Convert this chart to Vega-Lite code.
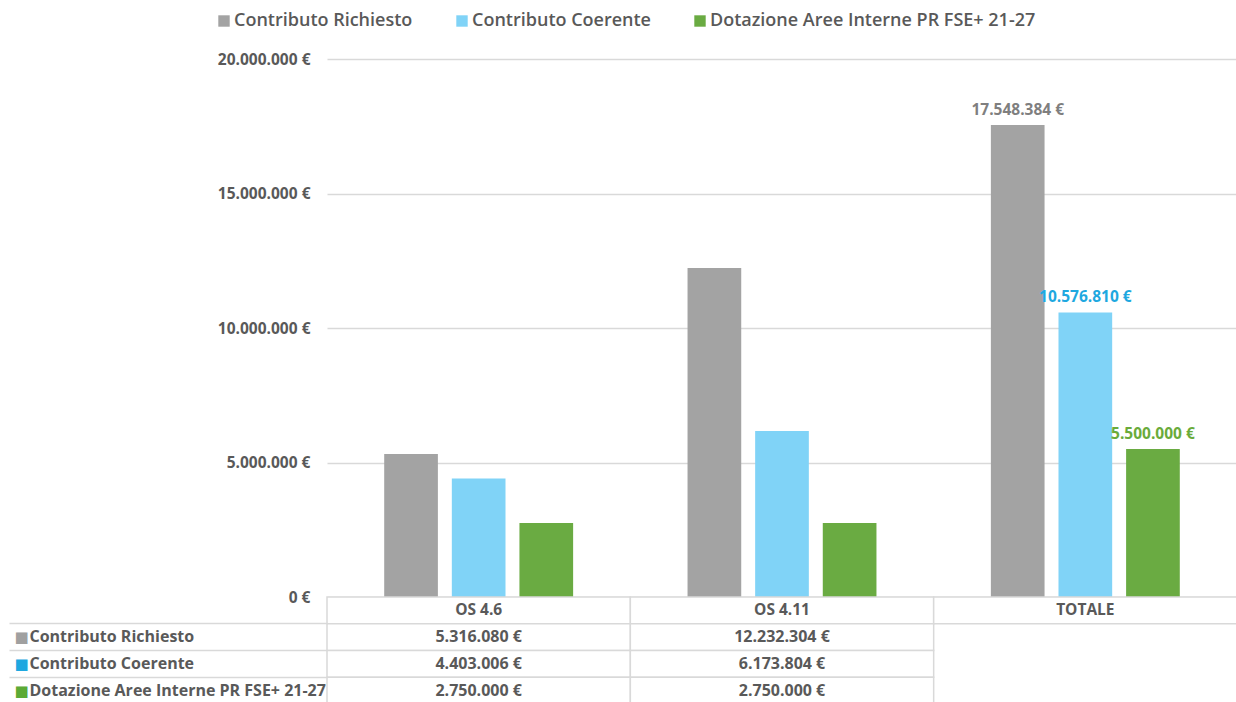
{
  "$schema": "https://vega.github.io/schema/vega-lite/v6.json",
  "padding": {"left": 8, "top": 12, "right": 0, "bottom": 0},
  "background": "white",
  "bounds": "flush",
  "spacing": 0,
  "datasets": {
    "valori": [
      {"cat": "OS 4.6", "serie": "Contributo Richiesto", "valore": 5316080},
      {"cat": "OS 4.6", "serie": "Contributo Coerente", "valore": 4403006},
      {"cat": "OS 4.6", "serie": "Dotazione Aree Interne PR FSE+ 21-27", "valore": 2750000},
      {"cat": "OS 4.11", "serie": "Contributo Richiesto", "valore": 12232304},
      {"cat": "OS 4.11", "serie": "Contributo Coerente", "valore": 6173804},
      {"cat": "OS 4.11", "serie": "Dotazione Aree Interne PR FSE+ 21-27", "valore": 2750000},
      {"cat": "TOTALE", "serie": "Contributo Richiesto", "valore": 17548384},
      {"cat": "TOTALE", "serie": "Contributo Coerente", "valore": 10576810},
      {"cat": "TOTALE", "serie": "Dotazione Aree Interne PR FSE+ 21-27", "valore": 5500000}
    ],
    "categorie": [
      {"cat": "OS 4.6"},
      {"cat": "OS 4.11"},
      {"cat": "TOTALE"}
    ]
  },
  "vconcat": [
    {
      "width": 910,
      "height": 538,
      "data": {"name": "valori"},
      "encoding": {
        "x": {"field": "cat", "type": "nominal", "sort": ["OS 4.6", "OS 4.11", "TOTALE"], "scale": {"paddingInner": 0, "paddingOuter": 0}, "axis": null},
        "xOffset": {"field": "serie", "type": "nominal", "sort": ["Contributo Richiesto", "Contributo Coerente", "Dotazione Aree Interne PR FSE+ 21-27"], "scale": {"paddingInner": 0.206, "paddingOuter": 0.846}},
        "y": {"field": "valore", "type": "quantitative", "scale": {"domain": [0, 20000000], "nice": false},
          "axis": {"values": [0, 5000000, 10000000, 15000000, 20000000], "format": "$,.0f", "title": null, "domain": false, "ticks": false, "labelPadding": 17, "labelFont": "Open Sans", "labelFontSize": 15.5, "labelFontWeight": "bold", "labelColor": "#595959", "gridColor": "#d9d9d9", "gridWidth": 1.5}}
      },
      "layer": [
        {
          "mark": {"type": "bar"},
          "encoding": {
            "color": {"field": "serie", "type": "nominal",
              "scale": {"domain": ["Contributo Richiesto", "Contributo Coerente", "Dotazione Aree Interne PR FSE+ 21-27"], "range": ["#a3a3a3", "#80d3f7", "#6aab42"]},
              "legend": {"orient": "none", "direction": "horizontal", "legendX": -112, "legendY": -47, "title": null,
                "symbolType": "square", "symbolSize": 130, "symbolStrokeWidth": 0,
                "labelFont": "Open Sans", "labelFontSize": 18, "labelFontWeight": 600, "labelColor": "#595959", "labelOffset": 1, "columnPadding": 40, "labelLimit": 400,
                "encode": {"symbols": {"update": {"fill": {"signal": "datum.value === 'Contributo Richiesto' ? '#a0a0a0' : datum.value === 'Contributo Coerente' ? '#1ea8e0' : '#5caa36'"}}}}}
            }
          }
        },
        {
          "transform": [{"filter": "datum.cat === 'TOTALE'"}],
          "mark": {"type": "text", "baseline": "bottom", "dy": -7, "font": "Open Sans", "fontSize": 15.5, "fontWeight": "bold"},
          "encoding": {
            "text": {"field": "valore", "type": "quantitative", "format": "$,.0f"},
            "fill": {"field": "serie", "type": "nominal", "legend": null,
              "scale": {"domain": ["Contributo Richiesto", "Contributo Coerente", "Dotazione Aree Interne PR FSE+ 21-27"], "range": ["#7f7f7f", "#1ea8e0", "#6aab3a"]}}
          }
        }
      ]
    },
    {
      "width": 910,
      "height": 107,
      "resolve": {"axis": {"y": "independent"}},
      "layer": [
        {
          "data": {"name": "categorie"},
          "mark": {"type": "rect", "fill": "white", "stroke": "#d9d9d9", "strokeWidth": 1.5},
          "encoding": {
            "x": {"field": "cat", "type": "nominal", "sort": ["OS 4.6", "OS 4.11", "TOTALE"], "scale": {"paddingInner": 0, "paddingOuter": 0}, "axis": null},
            "y": {"datum": "intestazione", "type": "nominal", "scale": {"domain": ["intestazione", "Contributo Richiesto", "Contributo Coerente", "Dotazione Aree Interne PR FSE+ 21-27"], "paddingInner": 0, "paddingOuter": 0}, "axis": null}
          }
        },
        {
          "data": {"name": "categorie"},
          "mark": {"type": "text", "font": "Open Sans", "fontSize": 15.5, "fontWeight": "bold", "fill": "#595959"},
          "encoding": {
            "x": {"field": "cat", "type": "nominal", "sort": ["OS 4.6", "OS 4.11", "TOTALE"], "axis": null},
            "y": {"datum": "intestazione", "type": "nominal", "axis": null},
            "text": {"field": "cat"}
          }
        },
        {
          "data": {"name": "valori"},
          "transform": [{"filter": "datum.cat !== 'TOTALE'"}],
          "mark": {"type": "rect", "fill": "white", "stroke": "#d9d9d9", "strokeWidth": 1.5},
          "encoding": {
            "x": {"field": "cat", "type": "nominal", "sort": ["OS 4.6", "OS 4.11", "TOTALE"], "axis": null},
            "y": {"field": "serie", "type": "nominal",
              "axis": {"orient": "left", "title": null, "domain": false, "bandPosition": 0, "tickSize": 318, "tickWidth": 1.5,
                "tickColor": {"condition": {"test": "datum.value === 'intestazione'", "value": "transparent"}, "value": "#d9d9d9"},
                "labelExpr": "datum.value === 'intestazione' ? '' : datum.value",
                "labelAlign": "left", "labelPadding": -20, "labelLimit": 400, "labelFont": "Open Sans", "labelFontSize": 16, "labelFontWeight": "bold", "labelColor": "#595959"}}
          }
        },
        {
          "data": {"name": "valori"},
          "transform": [{"filter": "datum.cat !== 'TOTALE'"}],
          "mark": {"type": "text", "font": "Open Sans", "fontSize": 16, "fontWeight": "bold", "fill": "#595959"},
          "encoding": {
            "x": {"field": "cat", "type": "nominal", "sort": ["OS 4.6", "OS 4.11", "TOTALE"], "axis": null},
            "y": {"field": "serie", "type": "nominal",
              "axis": {"orient": "left", "title": null, "domain": false, "ticks": false, "labelPadding": 313, "labelAlign": "left",
                "labelExpr": "datum.value === 'intestazione' ? '' : '■'", "labelFont": "DejaVu Sans", "labelFontSize": 15,
                "labelColor": {"condition": [{"test": "datum.value === 'Contributo Richiesto'", "value": "#a0a0a0"}, {"test": "datum.value === 'Contributo Coerente'", "value": "#1ea8e0"}], "value": "#5caa36"}}},
            "text": {"field": "valore", "type": "quantitative", "format": "$,.0f"}
          }
        }
      ]
    }
  ],
  "config": {
    "view": {"stroke": null},
    "locale": {"number": {"decimal": ",", "thousands": ".", "grouping": [3], "currency": ["", " €"]}}
  }
}
